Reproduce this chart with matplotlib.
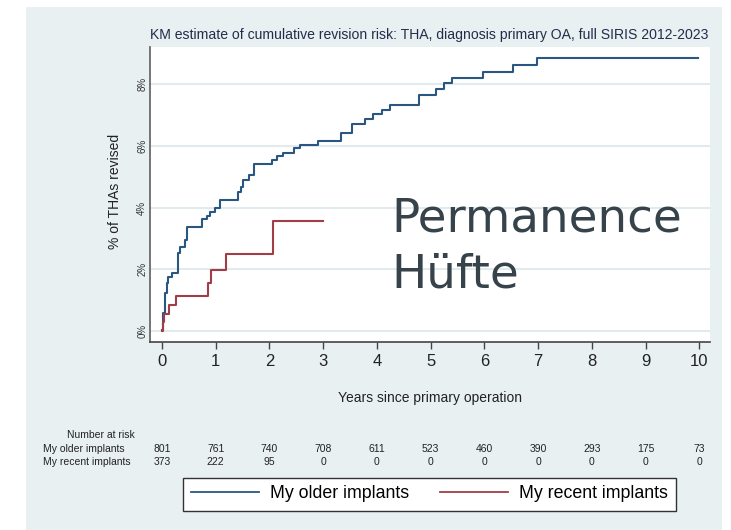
import numpy as np
import matplotlib.pyplot as plt
from matplotlib.lines import Line2D
from matplotlib.patches import Rectangle
from matplotlib.transforms import blended_transform_factory

# Kaplan-Meier steps (years, % revised)
older_t = [0, 0.025, 0.056, 0.087, 0.118, 0.18, 0.29, 0.335, 0.43, 0.47, 0.74, 0.84,
           0.89, 0.99, 1.08, 1.42, 1.48, 1.51, 1.62, 1.71, 2.04, 2.14, 2.26, 2.45,
           2.56, 2.91, 3.34, 3.53, 3.78, 3.93, 4.1, 4.24, 4.78, 5.1, 5.24, 5.39,
           5.97, 6.53, 6.98, 9.98]
older_p = [0.03, 0.57, 1.22, 1.54, 1.76, 1.87, 2.52, 2.73, 2.95, 3.36, 3.62, 3.74,
           3.86, 4.0, 4.24, 4.51, 4.67, 4.89, 5.05, 5.41, 5.54, 5.67, 5.78, 5.92,
           6.02, 6.16, 6.42, 6.7, 6.86, 7.02, 7.17, 7.32, 7.66, 7.84, 8.02, 8.18,
           8.4, 8.62, 8.83, 8.83]
recent_t = [0, 0.01, 0.04, 0.13, 0.26, 0.86, 0.92, 1.2, 2.06, 2.99]
recent_p = [0, 0.3, 0.55, 0.84, 1.13, 1.54, 1.97, 2.48, 3.56, 3.56]

years = list(range(11))
older_risk = [801, 761, 740, 708, 611, 523, 460, 390, 293, 175, 73]
recent_risk = [373, 222, 95, 0, 0, 0, 0, 0, 0, 0, 0]
yticks = [0, 2, 4, 6, 8]

blue = '#2a5682'
red = '#a13d47'
bg = '#e8f0f2'
W, H = 731, 530

plt.rcParams['font.family'] = ['Liberation Sans', 'DejaVu Sans']

fig = plt.figure(figsize=(W / 100, H / 100), dpi=100, facecolor='white')
# light grey-blue graph region
fig.patches.append(Rectangle((26 / W, 0), (722 - 26) / W, 1 - 7 / H,
                             transform=fig.transFigure, facecolor=bg,
                             edgecolor='none', zorder=-10))

ax = fig.add_axes([150 / W, 1 - 342 / H, 560 / W, 295 / H])
ax.set_facecolor('white')

ax.step(older_t, older_p, where='post', color=blue, lw=1.5)
ax.step(recent_t, recent_p, where='post', color=red, lw=1.5)

ax.set_xlim(-0.223, 10.2)
ax.set_ylim(-0.356, 9.2)
ax.set_xticks(years)
ax.set_xticklabels([str(y) for y in years], fontsize=12, color='#222222')
ax.set_yticks(yticks)
ax.set_yticklabels([f'{v}%' for v in yticks], rotation=90, va='center',
                   fontsize=7, color='#333333')
ax.tick_params(axis='x', length=5, width=1, color='#444444', pad=4)
ax.tick_params(axis='y', length=0, pad=2)
ax.grid(axis='y', color='#e2eaee', lw=1.5)
ax.set_axisbelow(True)
for s in ['top', 'right']:
    ax.spines[s].set_visible(False)
ax.spines['left'].set_color('#6a6a6a')
ax.spines['left'].set_linewidth(1.3)
ax.spines['bottom'].set_color('#444444')
ax.spines['bottom'].set_linewidth(1.2)

ax.set_ylabel('% of THAs revised', fontsize=10, color='#222222')
ax.yaxis.set_label_coords(-0.05, 0.51)
ax.set_xlabel('Years since primary operation', fontsize=10, color='#222222')
ax.xaxis.set_label_coords(0.5, -(391 - 342) / 295)

fig.text(429 / W, 1 - 35 / H,
         'KM estimate of cumulative revision risk: THA, diagnosis primary OA, full SIRIS 2012-2023',
         ha='center', va='center', fontsize=10.1, color='#232d4b')

# overlay text
for line, yb in [('Permanence', 232), ('Hüfte', 288)]:
    fig.text(391 / W, 1 - yb / H, line, family='DejaVu Sans', fontsize=33.7,
             color='#37434b', ha='left', va='baseline')

# number at risk table
fs = 7.5
fig.text(101 / W, 1 - 435 / H, 'Number at risk', ha='center', va='center',
         fontsize=fs, color='#222222')
fig.text(43 / W, 1 - 449 / H, 'My older implants', ha='left', va='center',
         fontsize=fs, color='#222222')
fig.text(43 / W, 1 - 462 / H, 'My recent implants', ha='left', va='center',
         fontsize=fs, color='#222222')
tr = blended_transform_factory(ax.transData, fig.transFigure)
for y, a, b in zip(years, older_risk, recent_risk):
    fig.text(y, 1 - 449 / H, str(a), transform=tr, ha='center', va='center',
             fontsize=fs, color='#222222')
    fig.text(y, 1 - 462 / H, str(b), transform=tr, ha='center', va='center',
             fontsize=fs, color='#222222')

handles = [Line2D([], [], color=blue, lw=1.3), Line2D([], [], color=red, lw=1.3)]
leg = fig.legend(handles, ['My older implants', 'My recent implants'], ncol=2,
                 loc='center', bbox_to_anchor=(429.5 / W, 1 - 494 / H),
                 fontsize=12.8, frameon=True, fancybox=False, framealpha=1,
                 edgecolor='#333333', handlelength=3.8, handletextpad=0.62,
                 columnspacing=1.75, borderpad=0.45)
leg.get_frame().set_linewidth(1)

fig.savefig('out.png', dpi=100, facecolor='white')
